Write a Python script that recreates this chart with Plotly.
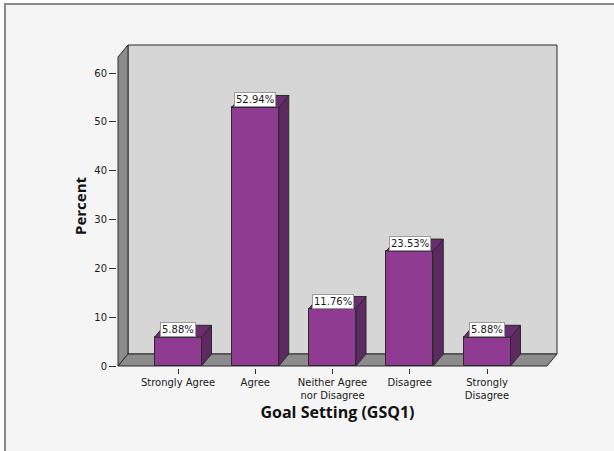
import plotly.graph_objects as go

# ---- data ----
categories = ["Strongly Agree", "Agree", "Neither Agree<br>nor Disagree", "Disagree", "Strongly<br>Disagree"]
percents = [5.88, 52.94, 11.76, 23.53, 5.88]
y_ticks = [0, 10, 20, 30, 40, 50, 60]

# ---- geometry (axis units) ----
W, H = 614, 451
ML, MR, MT, MB = 117, 56, 44, 83
PX_X = 77.25          # px per category
PX_Y = 4.8833         # px per percent
X_MIN = -61 / PX_X
X_MAX = (614 - MR - 178) / PX_X
Y_MIN = -2 / PX_Y
Y_MAX = (366 - MT) / PX_Y

XL = -60 / PX_X       # front plane left
XR = 369 / PX_X       # front plane right
DX = 10 / PX_X        # depth offset x
DY = 12 / PX_Y        # depth offset y
YTOP = (366 - 57) / PX_Y
BW = 47 / PX_X        # bar width

FRONT = "#8e3b91"
SIDE = "#5e2862"
TOP = "#6a2d6e"
EDGE = "#2a2a2a"

xpos = list(range(len(categories)))

fig = go.Figure()

# front faces
fig.add_trace(go.Bar(
    x=xpos, y=percents, width=BW,
    marker=dict(color=FRONT, line=dict(color=EDGE, width=1)),
    hoverinfo="skip", showlegend=False,
))

# side faces and top faces
sx, sy, tx, ty = [], [], [], []
for x, v in zip(xpos, percents):
    r = x + BW / 2
    l = x - BW / 2
    sx += [r, r, r + DX, r + DX, r, None]
    sy += [0, v, v + DY, DY, 0, None]
    tx += [l, r, r + DX, l + DX, l, None]
    ty += [v, v, v + DY, v + DY, v, None]

fig.add_trace(go.Scatter(x=sx, y=sy, mode="lines", fill="toself", fillcolor=SIDE,
                         line=dict(color=EDGE, width=1), hoverinfo="skip", showlegend=False))
fig.add_trace(go.Scatter(x=tx, y=ty, mode="lines", fill="toself", fillcolor=TOP,
                         line=dict(color=EDGE, width=1), hoverinfo="skip", showlegend=False))

# value labels
for x, v in zip(xpos, percents):
    fig.add_annotation(x=x, y=v, xref="x", yref="y", text=f"{v:.2f}%",
                       showarrow=False, yanchor="bottom", xanchor="center",
                       bgcolor="white", bordercolor="#9a9a9a", borderwidth=1, borderpad=1,
                       font=dict(family="DejaVu Sans", size=10, color="#1a1a1a"))

pw = W - ML - MR
ph = H - MT - MB
def px2paper_x(p):
    return (p - ML) / pw
def px2paper_y(p):
    return (H - MB - p) / ph

shapes = [
    # outer frame
    dict(type="rect", xref="paper", yref="paper", layer="below",
         x0=px2paper_x(5), y0=px2paper_y(470), x1=px2paper_x(640), y1=px2paper_y(4),
         fillcolor="#f5f5f5", line=dict(color="#8a8a8a", width=2)),
    # back wall
    dict(type="rect", xref="x", yref="y", layer="below",
         x0=XL + DX, y0=DY, x1=XR + DX, y1=YTOP + DY,
         fillcolor="#d6d6d6", line=dict(color=EDGE, width=1)),
    # left wall
    dict(type="path", xref="x", yref="y", layer="below",
         path=f"M {XL},0 L {XL},{YTOP} L {XL+DX},{YTOP+DY} L {XL+DX},{DY} Z",
         fillcolor="#8c8c8c", line=dict(color=EDGE, width=1)),
    # floor
    dict(type="path", xref="x", yref="y", layer="below",
         path=f"M {XL},0 L {XR},0 L {XR+DX},{DY} L {XL+DX},{DY} Z",
         fillcolor="#8c8c8c", line=dict(color=EDGE, width=1)),
]

fig.update_layout(
    width=W, height=H,
    margin=dict(l=ML, r=MR, t=MT, b=MB, pad=0),
    paper_bgcolor="white",
    plot_bgcolor="rgba(0,0,0,0)",
    shapes=shapes,
    bargap=0,
    showlegend=False,
    font=dict(family="DejaVu Sans", size=10, color="#1a1a1a"),
    xaxis=dict(range=[X_MIN, X_MAX], tickvals=xpos, ticktext=categories,
               ticks="outside", ticklen=5, tickcolor="#333", tickwidth=1,
               showgrid=False, zeroline=False, showline=False,
               tickfont=dict(family="DejaVu Sans", size=10, color="#1a1a1a"),
               title=dict(text="<b>Goal Setting (GSQ1)</b>", standoff=5,
                          font=dict(family="Open Sans", size=16, color="#111"))),
    yaxis=dict(range=[Y_MIN, Y_MAX], tickvals=y_ticks,
               ticks="outside", ticklen=7, tickcolor="#333", tickwidth=1,
               showgrid=False, zeroline=False, showline=False,
               tickfont=dict(family="DejaVu Sans", size=10, color="#1a1a1a"),
               title=dict(text="<b>Percent</b>", standoff=4,
                          font=dict(family="Open Sans", size=15, color="#111"))),
)

fig.write_html("out.html")
